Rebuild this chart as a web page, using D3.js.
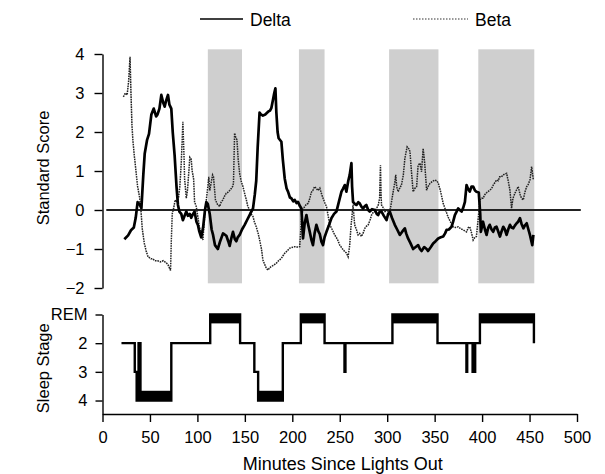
<!DOCTYPE html>
<html>
<head>
<meta charset="utf-8">
<script src="https://cdn.jsdelivr.net/npm/d3@7"></script>
<style>
  html, body { margin: 0; padding: 0; background: #fff; }
  svg { display: block; font-family: "Liberation Sans", Arial, Helvetica, sans-serif; }
</style>
</head>
<body>
<svg id="chart" width="605" height="474"></svg>
<script>
// ---------- data ----------
const xTicks = [0, 50, 100, 150, 200, 250, 300, 350, 400, 450, 500];
const scoreTicks = [4, 3, 2, 1, 0, -1, -2];
const stageTicks = [1, 2, 3, 4];
const stageLabels = ["REM", "2", "3", "4"];
const legendLabels = ["Delta", "Beta"];

// REM periods shaded in the upper panel [start, end] (minutes)
const remShading = [[111, 147], [207, 234], [302, 354], [396, 455]];
// zero reference line extent (minutes)
const zeroLineExtent = [4, 504];

// Delta standard score [minute, value]
const deltaSeries = [
[23,-0.75],[27,-0.65],[30,-0.52],[33,-0.45],[35,-0.2],[37,0.2],[39,0.15],[41,0.05],[43,0.9],[44.5,1.45],
[47,1.8],[49,1.95],[51.5,2.45],[54,2.6],[56.5,2.4],[58,2.45],[60,2.6],[62,2.95],[64,2.75],[65.5,2.65],
[67,2.8],[69,2.95],[70.5,2.7],[72.5,2.6],[74,2.0],[76,1.4],[78,0.6],[79.5,0.13],[81,-0.04],[83,-0.1],
[84.7,-0.26],[86.5,-0.15],[88.3,-0.04],[90,-0.15],[92,-0.1],[93.5,-0.2],[95,-0.12],[97,-0.04],[99,-0.3],[100.5,-0.38],
[102,-0.55],[104,-0.7],[106,-0.45],[108,0.0],[109.4,0.2],[111,0.15],[113,-0.1],[115,-0.5],[116.5,-0.64],[118.5,-0.9],
[121.5,-1.0],[124,-0.8],[127,-0.6],[130.5,-0.66],[132.5,-0.8],[134,-0.92],[136,-0.7],[137.5,-0.56],[139.5,-0.75],[141,-0.8],
[142.5,-0.7],[144.5,-0.64],[147,-0.5],[149.8,-0.38],[152.5,-0.25],[155,-0.13],[158.6,0.04],[160.5,0.4],[162,0.75],[163.5,1.6],
[165.5,2.5],[167,2.45],[169,2.42],[171.5,2.45],[174.5,2.52],[176.5,2.55],[178,2.62],[179.6,2.82],[181,3.0],[182.2,3.12],
[183.2,2.5],[184.5,2.0],[185.6,1.84],[188.5,1.75],[190,1.3],[192,0.81],[194,0.55],[195.5,0.47],[197.5,0.32],[199,0.3],
[201,0.22],[202.5,0.26],[204.5,0.18],[206,0.21],[208,0.1],[209.6,0.04],[211.3,-0.73],[213,-0.35],[214.9,-0.13],[216.5,-0.35],
[218.4,-0.56],[220,-0.75],[221.8,-0.9],[223.5,-0.6],[225.4,-0.38],[227.5,-0.55],[229,-0.62],[230.7,-0.81],[232.4,-0.9],[234,-0.7],
[236,-0.56],[238.5,-0.4],[241.2,-0.21],[244,-0.1],[246.5,-0.04],[249,0.2],[251.8,0.47],[253.5,0.55],[255.3,0.64],[257,0.47],
[259,0.75],[260.5,0.9],[262.3,1.2],[263,0.6],[264,0.21],[266,0.15],[267.6,0.13],[269.5,0.2],[271,0.17],[273,0.08],
[274.6,0.04],[276.5,0.1],[278,0.13],[280,0.0],[281.6,-0.04],[284,0.02],[287,0.0],[289,-0.1],[290.4,-0.13],[292,-0.05],
[294,-0.04],[296.5,-0.15],[299.3,-0.26],[301,-0.1],[302.7,-0.04],[305,-0.2],[308,-0.38],[310.5,-0.5],[313.3,-0.64],[316,-0.55],
[318.6,-0.47],[320,-0.6],[322,-0.73],[324.5,-0.85],[327.3,-1.0],[330,-0.95],[332.6,-0.9],[334.5,-1.0],[336.2,-1.05],[339,-0.95],
[341.5,-1.0],[343,-1.05],[346,-0.95],[348.4,-0.86],[351,-0.8],[353.7,-0.73],[356.5,-0.7],[359,-0.68],[361,-0.6],[362.6,-0.51],
[365,-0.5],[367.8,-0.43],[369.5,-0.3],[371.3,-0.13],[373,-0.05],[374.8,0.04],[376.5,0.0],[378.4,-0.04],[380,0.05],[381.9,0.21],
[383.6,0.64],[385,0.55],[387,0.47],[388.8,0.6],[390.6,0.6],[392.5,0.5],[394,0.47],[396.5,0.45],[398,-0.1],[398.7,-0.56],
[401,-0.3],[403,-0.5],[404.7,-0.64],[406.5,-0.45],[408,-0.38],[410,-0.5],[411.7,-0.56],[413.5,-0.45],[415.2,-0.43],[417,-0.55],
[418.8,-0.68],[420.5,-0.55],[422.3,-0.43],[424,-0.5],[425.8,-0.64],[427.5,-0.5],[429.4,-0.38],[431,-0.45],[432.8,-0.47],[434.5,-0.4],
[436.4,-0.34],[438,-0.3],[439.9,-0.21],[441.5,-0.35],[443.5,-0.47],[445,-0.4],[447,-0.34],[448.8,-0.5],[450.4,-0.64],[452.9,-0.9],
[454,-0.64]
];

// Beta standard score [minute, value]
const betaSeries = [
[22,2.9],[24,3.0],[26,2.95],[27.5,3.3],[29,3.93],[30,3.0],[31,2.2],[32,1.8],[33.5,1.4],[35.5,0.94],
[37,0.6],[39,0.34],[40.5,0.0],[42,-0.5],[44,-0.85],[46,-1.05],[48,-1.2],[51,-1.25],[53,-1.25],[55,-1.3],
[58,-1.3],[61,-1.33],[64,-1.3],[67,-1.35],[69,-1.4],[71.7,-1.55],[72.5,-0.8],[73.5,-0.1],[75,0.05],[76.6,0.26],
[78,0.2],[80,0.3],[81.5,0.6],[83,1.2],[84.7,2.26],[86,1.3],[86.5,0.8],[88.3,0.3],[89.5,0.5],[91,1.0],
[92,1.35],[93.5,1.3],[94.5,1.0],[96,0.8],[97,0.21],[98.8,0.09],[100,-0.1],[102,-0.43],[104,-0.6],[105.8,-0.77],
[107.5,-0.2],[109.4,0.26],[111,0.6],[112,0.85],[113,0.5],[114.4,0.68],[116,0.9],[117,0.85],[119,0.26],[121,0.15],
[123.4,0.09],[125,0.2],[126.9,0.26],[128.5,0.35],[130.4,0.43],[132,0.45],[134,0.5],[135.7,0.55],[137,0.6],[138,0.68],
[139.2,1.97],[140.5,1.85],[141.7,1.8],[143,1.3],[144.5,0.94],[146,0.75],[148,0.6],[150,0.4],[151.6,0.26],[153,0.1],
[155,0.0],[156.5,-0.1],[158.6,-0.17],[160,-0.3],[162,-0.43],[164,-0.6],[165.6,-0.77],[167.5,-1.0],[169,-1.28],[171,-1.4],
[172.7,-1.5],[174.5,-1.54],[176,-1.48],[178,-1.45],[180,-1.42],[183,-1.37],[185.5,-1.3],[188.5,-1.24],[190,-1.18],[192,-1.11],
[194.5,-1.05],[197.2,-0.98],[199.5,-0.96],[202.5,-0.94],[205,-0.95],[207.8,-0.94],[209.6,-0.26],[211,0.0],[213,0.09],[215,0.15],
[216.7,0.17],[218.5,0.3],[220,0.45],[221.8,0.51],[223.5,0.6],[225.4,0.55],[227,0.5],[229,0.56],[231,0.4],[232.4,0.3],
[234,0.2],[236,0.09],[239.5,-0.38],[242,-0.5],[244.7,-0.64],[247.5,-0.75],[250,-0.9],[253,-1.0],[255.3,-1.07],[257,-1.1],
[258.8,-1.2],[260.5,-0.9],[262,-0.38],[264,0.13],[265.7,-0.38],[267.5,-0.5],[269.3,-0.64],[271,-0.6],[272.8,-0.68],[274.5,-0.6],
[276.4,-0.47],[278,-0.42],[280,-0.38],[282,-0.25],[283.5,-0.13],[285.5,-0.05],[287,-0.04],[289,0.05],[290.6,0.13],[292,0.3],
[292.9,1.15],[293.5,0.4],[294,0.13],[296,0.05],[297.6,-0.04],[300,-0.02],[302.8,-0.04],[304.5,0.2],[306.3,0.47],[308,0.7],
[309,0.9],[310,0.6],[311.5,0.47],[313,0.55],[315,0.64],[317,0.9],[318.6,1.32],[320,1.5],[321,1.62],[322.5,1.58],
[324,1.5],[325.5,1.0],[327.3,0.47],[329,0.55],[331,0.6],[332.6,1.15],[334.5,1.2],[336.2,0.98],[337.9,1.58],[339.5,1.2],
[341.5,0.51],[343,0.6],[345,0.68],[347,0.72],[350.2,0.77],[352,0.75],[353.7,0.7],[356,0.5],[359,0.17],[361.5,0.0],
[364,-0.17],[366.5,-0.3],[369.5,-0.43],[372,-0.45],[374.8,-0.43],[377.5,-0.48],[380,-0.51],[383.6,-0.56],[385.5,-0.45],[387,-0.43],
[389,-0.6],[390.6,-0.77],[392.5,-0.7],[394,-0.68],[396,-0.2],[397.7,0.26],[399.5,0.3],[401,0.3],[403,0.4],[405,0.45],
[408.2,0.51],[410,0.55],[412,0.65],[415.3,0.77],[417,0.75],[418.5,0.85],[420.5,0.85],[422,0.9],[424,0.92],[425.8,0.94],
[427.5,0.75],[429.3,0.51],[431,0.04],[432.5,0.3],[434.6,0.43],[436,0.5],[438,0.6],[440,0.4],[441.5,0.3],[443.4,0.26],
[445,0.45],[447,0.6],[448.5,0.65],[450.4,0.77],[452.2,1.11],[454,0.77]
];

// Hypnogram: [minute at which stage begins, stage] (1 = REM)
const stageSteps = [
[20,2],[34,3],[36,4],[38,2],[40,4],[72.5,2],[113.5,1],[145,2],[160,3],[164,4],[190,2],[209,1],[234,2],
[255,3],[256,2],[305.5,1],[353,2],[383.5,3],[384.3,2],[390,3],[390.7,2],[392,3],[392.7,2],[397.7,1],[454.6,2]
];

// ---------- drawing ----------
const svg = d3.select("#chart");
const FONT = 16.5;

const x = d3.scaleLinear().domain([0, 500]).range([102.5, 577]);
const yScore = d3.scaleLinear().domain([-2, 4]).range([288, 54]);
const yStage = d3.scaleLinear().domain([1, 4.47]).range([314.5, 414]);

// grey REM shading
svg.append("g").selectAll("rect").data(remShading).join("rect")
  .attr("x", d => x(d[0]))
  .attr("width", d => x(d[1]) - x(d[0]))
  .attr("y", yScore(4.12))
  .attr("height", yScore(-1.88) - yScore(4.12))
  .attr("fill", "#cfcfcf");

// zero line
svg.append("line")
  .attr("x1", x(zeroLineExtent[0])).attr("x2", x(zeroLineExtent[1]))
  .attr("y1", yScore(0)).attr("y2", yScore(0))
  .attr("stroke", "#222").attr("stroke-width", 2);

const lineGen = d3.line().x(d => x(d[0])).y(d => yScore(d[1]));

svg.append("path").datum(betaSeries)
  .attr("d", lineGen)
  .attr("fill", "none")
  .attr("stroke", "#222")
  .attr("stroke-width", 1.5)
  .attr("stroke-dasharray", "1.6,0.9");

svg.append("path").datum(deltaSeries)
  .attr("d", lineGen)
  .attr("fill", "none")
  .attr("stroke", "#000")
  .attr("stroke-width", 2.7)
  .attr("stroke-linejoin", "round");

// upper y axis
const axScore = svg.append("g")
  .attr("transform", `translate(${x(0)},0)`)
  .call(d3.axisLeft(yScore).tickValues(scoreTicks).tickFormat(d3.format("d"))
    .tickSize(8).tickSizeOuter(0).tickPadding(10));

// lower panel: hypnogram
const segs = [];
for (let i = 0; i < stageSteps.length - 1; i++) {
  segs.push({ s: stageSteps[i][1], a: stageSteps[i][0], b: stageSteps[i + 1][0] });
}
svg.append("g").selectAll("rect").data(segs.filter(d => d.s === 1 || d.s === 4)).join("rect")
  .attr("x", d => x(d.a))
  .attr("width", d => x(d.b) - x(d.a))
  .attr("y", d => d.s === 1 ? yStage(1) : yStage(3.66))
  .attr("height", d => d.s === 1 ? yStage(1.31) - yStage(1) : yStage(4) - yStage(3.66))
  .attr("fill", "#000");

svg.append("path").datum(stageSteps)
  .attr("d", d3.line().curve(d3.curveStepAfter).x(d => x(d[0])).y(d => yStage(d[1])))
  .attr("fill", "none")
  .attr("stroke", "#000")
  .attr("stroke-width", 2.4);

const axStage = svg.append("g")
  .attr("transform", `translate(${x(0)},0)`)
  .call(d3.axisLeft(yStage).tickValues(stageTicks).tickFormat((d, i) => stageLabels[i])
    .tickSize(7).tickSizeOuter(0).tickPadding(8));

const axX = svg.append("g")
  .attr("transform", `translate(0,${yStage(4.47)})`)
  .call(d3.axisBottom(x).tickValues(xTicks).tickFormat(d3.format("d")).tickSize(8).tickSizeOuter(0).tickPadding(9));

[axScore, axStage, axX].forEach(g => {
  g.selectAll("path, line").attr("stroke", "#000").attr("stroke-width", 1.4);
  g.selectAll("text").attr("font-size", FONT).attr("fill", "#000")
    .attr("font-family", "'Liberation Sans', Arial, sans-serif");
});

// axis titles
svg.append("text")
  .attr("transform", `translate(49,${(yScore(4) + yScore(-2)) / 2 - 3}) rotate(-90)`)
  .attr("text-anchor", "middle")
  .attr("font-size", FONT)
  .text("Standard Score");

svg.append("text")
  .attr("transform", `translate(49,${(yStage(1) + yStage(4.47)) / 2 + 4}) rotate(-90)`)
  .attr("text-anchor", "middle")
  .attr("font-size", FONT)
  .text("Sleep Stage");

svg.append("text")
  .attr("x", (x(0) + x(500)) / 2 + 3)
  .attr("y", 470)
  .attr("text-anchor", "middle")
  .attr("font-size", 18)
  .text("Minutes Since Lights Out");

// legend
const legend = svg.append("g");
const legX = [200, 413];
const legW = [43, 55];
legendLabels.forEach((lab, i) => {
  legend.append("line")
    .attr("x1", legX[i]).attr("x2", legX[i] + legW[i])
    .attr("y1", 19).attr("y2", 19)
    .attr("stroke", i === 0 ? "#000" : "#333")
    .attr("stroke-width", i === 0 ? 1.5 : 1.2)
    .attr("stroke-dasharray", i === 0 ? null : "1.5,1.5");
  legend.append("text")
    .attr("x", legX[i] + legW[i] + 7)
    .attr("y", 25.5)
    .attr("font-size", 17.5)
    .text(lab);
});
</script>
</body>
</html>
